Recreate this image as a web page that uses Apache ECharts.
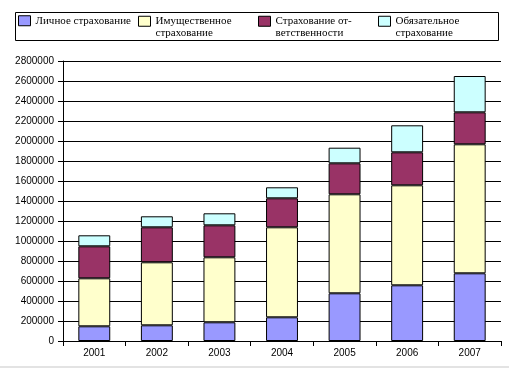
<!DOCTYPE html>
<html>
<head>
<meta charset="utf-8">
<script src="https://cdn.jsdelivr.net/npm/echarts@6/dist/echarts.min.js"></script>
<style>html,body{margin:0;padding:0;background:#fff}#c{width:509px;height:369px}</style>
</head>
<body>
<div id="c"></div>
<script>
var categories = ['2001', '2002', '2003', '2004', '2005', '2006', '2007'];
var seriesNames = ['Личное страхование', 'Имущественное страхование', 'Страхование ответственности', 'Обязательное страхование'];
var legendLabels = ['Личное страхование', 'Имущественное\nстрахование', 'Страхование от-\nветственности', 'Обязательное\nстрахование'];
var personal  = [147000, 157000, 187000, 237000, 477000, 557000, 677000];
var property  = [480000, 630000, 650000, 900000, 990000, 1000000, 1290000];
var liability = [320000, 350000, 320000, 290000, 310000, 330000, 320000];
var mandatory = [110000, 110000, 120000, 110000, 156000, 270000, 363000];
var yTicks = { min: 0, max: 2800000, interval: 200000 };

var colors = ['#9999FF', '#FFFFCC', '#993366', '#CCFFFF'];
var values = [personal, property, liability, mandatory];
var legendLeft = [18, 138, 258, 378];

var chart = echarts.init(document.getElementById('c'), null, {renderer: 'canvas'});
var series = values.map(function (v, i) {
  return {
    name: seriesNames[i], type: 'bar', stack: 'all', data: v,
    barWidth: '51%',
    itemStyle: { color: colors[i], borderColor: '#000', borderWidth: 1 },
    emphasis: { disabled: true }
  };
});
var legends = seriesNames.map(function (n, i) {
  var two = legendLabels[i].indexOf('\n') >= 0;
  return {
    data: [n], left: legendLeft[i], top: two ? 4 : 15, padding: 0,
    icon: 'rect', itemWidth: 12, itemHeight: 10,
    itemStyle: { borderColor: '#000', borderWidth: 1 },
    formatter: function () { return two ? '\n' + legendLabels[i] : legendLabels[i]; },
    selectedMode: false,
    textStyle: { fontFamily: 'Liberation Serif', fontSize: 11, color: '#000', lineHeight: 11.5 }
  };
});
chart.setOption({
  animation: false,
  backgroundColor: '#fff',
  grid: { left: 63, right: 8, top: 61, bottom: 28, containLabel: false },
  legend: legends,
  xAxis: {
    type: 'category', data: categories,
    axisLine: { lineStyle: { color: '#000', width: 1 } },
    axisTick: { show: true, alignWithLabel: false, length: 5, lineStyle: { color: '#000' } },
    axisLabel: { fontFamily: 'Liberation Sans', fontSize: 10, color: '#000', margin: 7 }
  },
  yAxis: {
    type: 'value', min: yTicks.min, max: yTicks.max, interval: yTicks.interval,
    axisLine: { show: true, lineStyle: { color: '#000', width: 1 } },
    axisTick: { show: true, length: 5, lineStyle: { color: '#000' } },
    axisLabel: { fontFamily: 'Liberation Sans', fontSize: 10, color: '#000', margin: 9,
      formatter: function (v) { return String(v); } },
    splitLine: { show: true, lineStyle: { color: '#000', width: 1 } }
  },
  series: series,
  graphic: [
    { type: 'rect', shape: { x: 15.5, y: 12.5, width: 483, height: 28 }, style: { fill: 'none', stroke: '#000', lineWidth: 1 }, z: -1 },
    { type: 'rect', shape: { x: 0, y: 366, width: 509, height: 2 }, style: { fill: '#e3e3e3' }, z: -1 }
  ]
});
</script>
</body>
</html>
